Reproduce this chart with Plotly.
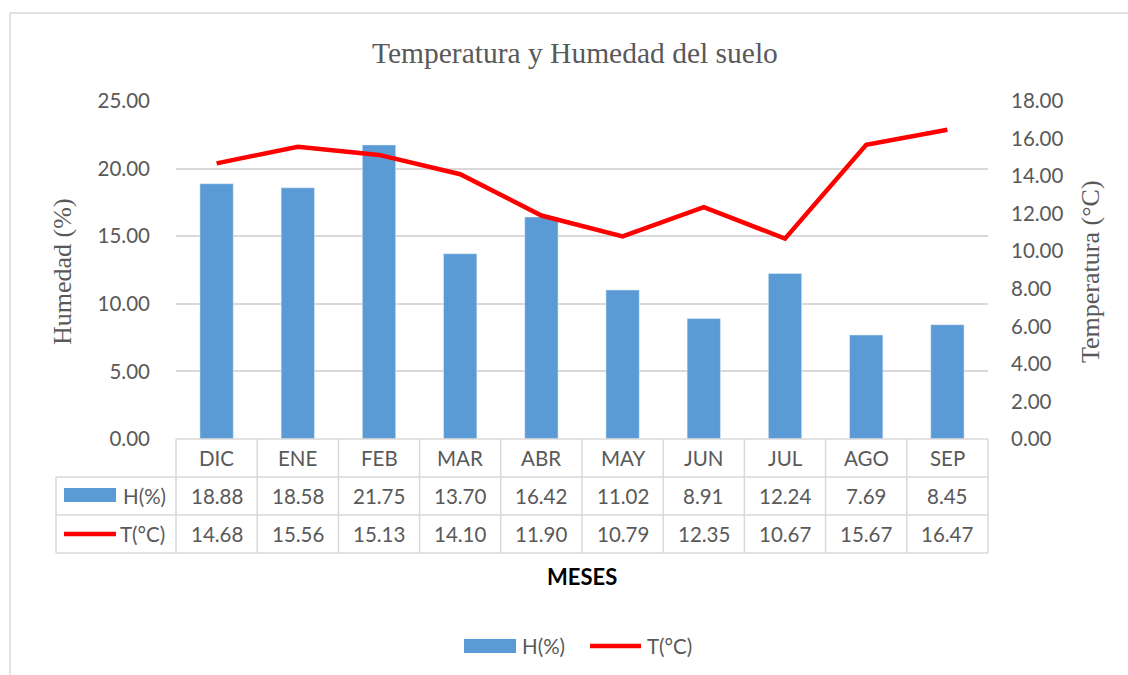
import plotly.graph_objects as go

months = ["DIC", "ENE", "FEB", "MAR", "ABR", "MAY", "JUN", "JUL", "AGO", "SEP"]
humedad = [18.88, 18.58, 21.75, 13.70, 16.42, 11.02, 8.91, 12.24, 7.69, 8.45]
temperatura = [14.68, 15.56, 15.13, 14.10, 11.90, 10.79, 12.35, 10.67, 15.67, 16.47]
series_names = ["H(%)", "T(°C)"]
title_text = "Temperatura y Humedad del suelo"
y1_title = "Humedad (%)"
y2_title = "Temperatura (°C)"
x_title = "MESES"

W, H = 1128, 675
L, R, T, B = 176, 988, 101, 439
BLUE = "#5b9bd5"
RED = "#ff0000"
GRID = "#d9d9d9"
TXT = "#595959"
SANS = "Lato, 'Open Sans', sans-serif"
SERIF = "'Liberation Serif', 'Times New Roman', serif"


def px(x):
    return (x - L) / (R - L)


def py(y):
    return (B - y) / (B - T)


fig = go.Figure()
fig.add_trace(go.Bar(x=months, y=humedad, name=series_names[0], marker_color=BLUE,
                     width=0.41, yaxis="y"))
fig.add_trace(go.Scatter(x=months, y=temperatura, name=series_names[1], mode="lines",
                         line=dict(color=RED, width=4.5), yaxis="y2"))

shapes = []
annotations = []
lc = dict(color=GRID, width=1.5)

# outer chart border (partial, extends past the page)
shapes.append(dict(type="line", xref="paper", yref="paper", x0=px(10), x1=px(1140),
                   y0=py(13), y1=py(13), line=lc))
shapes.append(dict(type="line", xref="paper", yref="paper", x0=px(10), x1=px(10),
                   y0=py(13), y1=py(690), line=lc))

# data table grid
row_y = [439, 477, 515, 553]
n = len(months)
shapes.append(dict(type="line", xref="paper", yref="paper", x0=0, x1=1,
                   y0=py(row_y[0]), y1=py(row_y[0]), line=lc))
for yy in row_y[1:]:
    shapes.append(dict(type="line", xref="paper", yref="paper", x0=px(56), x1=1,
                       y0=py(yy), y1=py(yy), line=lc))
for k in range(n + 1):
    shapes.append(dict(type="line", xref="paper", yref="paper", x0=k / n, x1=k / n,
                       y0=py(row_y[0]), y1=py(row_y[3]), line=lc))
shapes.append(dict(type="line", xref="paper", yref="paper", x0=px(56), x1=px(56),
                   y0=py(row_y[1]), y1=py(row_y[3]), line=lc))

tf = dict(family=SANS, size=20.5, color=TXT)
rows = [[m for m in months],
        ["%.2f" % v for v in humedad],
        ["%.2f" % v for v in temperatura]]
for r, vals in enumerate(rows):
    yc = (row_y[r] + row_y[r + 1]) / 2
    for k, v in enumerate(vals):
        annotations.append(dict(text=v, xref="paper", yref="paper", x=(k + 0.5) / n,
                                y=py(yc), showarrow=False, font=tf,
                                xanchor="center", yanchor="middle"))

# row header keys
shapes.append(dict(type="rect", xref="paper", yref="paper", x0=px(64), x1=px(116),
                   y0=py(502), y1=py(488), fillcolor=BLUE, line=dict(width=0)))
shapes.append(dict(type="line", xref="paper", yref="paper", x0=px(64), x1=px(116),
                   y0=py(534), y1=py(534), line=dict(color=RED, width=4.5)))
annotations.append(dict(text=series_names[0], xref="paper", yref="paper", x=px(121),
                        y=py(496), showarrow=False, font=tf, xanchor="left", yanchor="middle"))
annotations.append(dict(text=series_names[1], xref="paper", yref="paper", x=px(118),
                        y=py(534), showarrow=False, font=tf, xanchor="left", yanchor="middle"))

# bottom legend
shapes.append(dict(type="rect", xref="paper", yref="paper", x0=px(464), x1=px(516),
                   y0=py(653), y1=py(639), fillcolor=BLUE, line=dict(width=0)))
shapes.append(dict(type="line", xref="paper", yref="paper", x0=px(590), x1=px(641),
                   y0=py(646), y1=py(646), line=dict(color=RED, width=4.5)))
annotations.append(dict(text=series_names[0], xref="paper", yref="paper", x=px(520),
                        y=py(646), showarrow=False, font=tf, xanchor="left", yanchor="middle"))
annotations.append(dict(text=series_names[1], xref="paper", yref="paper", x=px(645),
                        y=py(646), showarrow=False, font=tf, xanchor="left", yanchor="middle"))

# titles
annotations.append(dict(text=title_text, xref="paper", yref="paper", x=px(575), y=py(53),
                        showarrow=False, xanchor="center", yanchor="middle",
                        font=dict(family=SERIF, size=29.5, color=TXT)))
annotations.append(dict(text=y1_title, xref="paper", yref="paper", x=px(62), y=py(272),
                        showarrow=False, xanchor="center", yanchor="middle", textangle=-90,
                        font=dict(family=SERIF, size=26, color=TXT)))
annotations.append(dict(text=y2_title, xref="paper", yref="paper", x=px(1090), y=py(272),
                        showarrow=False, xanchor="center", yanchor="middle", textangle=-90,
                        font=dict(family=SERIF, size=26, color=TXT)))
annotations.append(dict(text="<b>" + x_title + "</b>", xref="paper", yref="paper", x=px(582),
                        y=py(576), showarrow=False, xanchor="center", yanchor="middle",
                        font=dict(family=SANS, size=22, color="#000000")))

fig.update_layout(
    width=W, height=H, autosize=False,
    margin=dict(l=L, r=W - R, t=T, b=H - B, pad=0),
    paper_bgcolor="white", plot_bgcolor="white",
    showlegend=False, bargap=0.59,
    xaxis=dict(type="category", range=[-0.5, n - 0.5], showticklabels=False,
               showgrid=False, zeroline=False, showline=False, ticks=""),
    yaxis=dict(range=[0, 25], dtick=5, tickformat=".2f", showgrid=True, gridcolor=GRID,
               gridwidth=1.5, zeroline=False, showline=False, ticks="",
               tickfont=tf, ticklabelstandoff=25),
    yaxis2=dict(range=[0, 18], dtick=2, tickformat=".2f", overlaying="y", side="right",
                showgrid=False, zeroline=False, showline=False, ticks="",
                tickfont=tf, ticklabelstandoff=22),
    shapes=shapes, annotations=annotations,
)

fig.write_html("out.html", config={"displayModeBar": False},
               post_script="document.body.style.margin='0px';")
